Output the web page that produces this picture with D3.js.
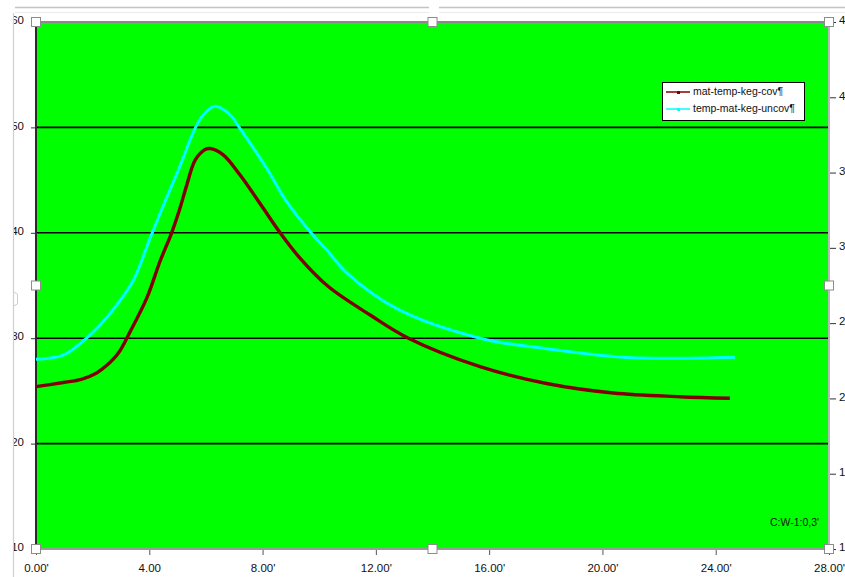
<!DOCTYPE html>
<html>
<head>
<meta charset="utf-8">
<script src="https://cdn.jsdelivr.net/npm/d3@7"></script>
<style>
  html, body { margin: 0; padding: 0; background: #ffffff; overflow: hidden; }
  svg { display: block; font-family: "Liberation Sans", Arial, sans-serif; }
</style>
</head>
<body>
<svg id="chart" width="845" height="577"></svg>
<script>
// ---- data ----
const covTime = [0, 0.96, 1.6, 2.14, 2.49, 2.91, 3.32, 3.91, 4.38, 4.79, 5.08, 5.32, 5.62, 5.97, 6.14, 6.61, 7.2, 8.03, 8.62, 9.32, 10.32, 11.8, 13.15, 15.68, 18.03, 20.38, 22.74, 24.5];
const covTemp = [25.4, 25.8, 26.1, 26.7, 27.4, 28.6, 30.6, 33.8, 37.3, 40.0, 42.3, 44.5, 46.9, 47.9, 48.0, 47.4, 45.5, 42.3, 40.0, 37.6, 34.9, 32.2, 30.0, 27.3, 25.7, 24.8, 24.45, 24.3];
const uncovTime = [0, 0.96, 1.61, 2.26, 2.85, 3.44, 4.03, 4.5, 5.08, 5.55, 5.85, 6.32, 6.85, 7.2, 8.15, 8.85, 9.68, 10.32, 10.97, 12.74, 15.68, 18.03, 20.74, 22.39, 24.68];
const uncovTemp = [28.0, 28.4, 29.6, 31.25, 33.15, 35.5, 39.5, 42.6, 46.3, 49.5, 51.0, 52.0, 51.2, 49.9, 46.1, 42.95, 40.1, 38.2, 36.2, 32.8, 30.0, 29.0, 28.2, 28.1, 28.2];
const seriesNames = ["mat-temp-keg-cov\u00b6", "temp-mat-keg-uncov\u00b6"];
const seriesColors = ["#800000", "#00ffff"];
const xTicks = [0, 4, 8, 12, 16, 20, 24, 28];
const xTickLabels = ["0.00'", "4.00", "8.00'", "12.00'", "16.00'", "20.00'", "24.00'", "28.00'"];
const yLeftTicks = [10, 20, 30, 40, 50, 60];
const yGridValues = [20, 30, 40, 50];
const yRightTicks = [10, 15, 20, 25, 30, 35, 40, 45];
const cornerNote = "C:W-1:0,3'";

// ---- layout ----
const L = 36, R = 829, T = 22, B = 549;
const svg = d3.select("#chart");

const x = d3.scaleLinear().domain([0, 28]).range([L, R]);
const yL = d3.scaleLinear().domain([10, 60]).range([B, T]);
const yR = d3.scaleLinear().domain([10, 45]).range([B, T]);

// outer frame lines
svg.append("line").attr("x1", 15).attr("x2", 845).attr("y1", 7.5).attr("y2", 7.5)
  .attr("stroke", "#c4c4c4").attr("stroke-width", 1.5);
svg.append("line").attr("x1", 15).attr("x2", 845).attr("y1", 12.5).attr("y2", 12.5)
  .attr("stroke", "#ececec").attr("stroke-width", 1);
svg.append("line").attr("x1", 13.5).attr("x2", 13.5).attr("y1", 13).attr("y2", 577)
  .attr("stroke", "#cfcfcf").attr("stroke-width", 1.2);
svg.append("rect").attr("x", 429).attr("y", 3).attr("width", 10).attr("height", 10)
  .attr("fill", "#fff").attr("stroke", "none");
svg.append("path").attr("d", "M13.5,292 L17.5,294 L17.5,304 L13.5,306")
  .attr("fill", "none").attr("stroke", "#cfcfcf").attr("stroke-width", 1);

// plot background
svg.append("rect").attr("x", L).attr("y", T).attr("width", R - L).attr("height", B - T)
  .attr("fill", "#00ff00");

// gridlines
svg.append("g").selectAll("line").data(yGridValues).join("line")
  .attr("x1", L).attr("x2", R)
  .attr("y1", d => yL(d)).attr("y2", d => yL(d))
  .attr("stroke", "#000").attr("stroke-width", 1.6);

// borders
svg.append("line").attr("x1", L).attr("x2", R).attr("y1", T).attr("y2", T)
  .attr("stroke", "#8a8a8a").attr("stroke-width", 2);
svg.append("line").attr("x1", R).attr("x2", R).attr("y1", T).attr("y2", B)
  .attr("stroke", "#b8b8b8").attr("stroke-width", 2);
svg.append("line").attr("x1", L).attr("x2", R).attr("y1", B).attr("y2", B)
  .attr("stroke", "#9a9a9a").attr("stroke-width", 2);
svg.append("line").attr("x1", L).attr("x2", L).attr("y1", T).attr("y2", B)
  .attr("stroke", "#2a2a2a").attr("stroke-width", 2);

// left axis (labels clipped by the frame at x=14)
svg.append("defs").append("clipPath").attr("id", "leftclip")
  .append("rect").attr("x", 14).attr("y", 0).attr("width", 30).attr("height", 577);
const leftAxis = d3.axisLeft(yL).tickValues(yLeftTicks).tickSize(4).tickPadding(7).tickFormat(d3.format("d"));
const gLwrap = svg.append("g").attr("clip-path", "url(#leftclip)");
const gL = gLwrap.append("g").attr("transform", `translate(${L - 1},0)`).call(leftAxis);
gL.select(".domain").remove();
gL.selectAll(".tick line").attr("stroke", "#333");
gL.selectAll(".tick text").attr("font-size", 11.5).attr("fill", "#111")
  .attr("font-family", "Liberation Sans, Arial, sans-serif").attr("dy", "0.15em");

// right axis
const rightAxis = d3.axisRight(yR).tickValues(yRightTicks).tickSize(6).tickPadding(3).tickFormat(d3.format("d"));
const gR = svg.append("g").attr("transform", `translate(${R + 1},0)`).call(rightAxis);
gR.select(".domain").remove();
gR.selectAll(".tick line").attr("stroke", "#333");
gR.selectAll(".tick text").attr("font-size", 11.5).attr("fill", "#111")
  .attr("font-family", "Liberation Sans, Arial, sans-serif").attr("dy", "0.15em");

// bottom axis
const bottomAxis = d3.axisBottom(x).tickValues(xTicks).tickSize(5).tickPadding(9)
  .tickFormat((d, i) => xTickLabels[i]);
const gB = svg.append("g").attr("transform", `translate(0,${B + 1})`).call(bottomAxis);
gB.select(".domain").remove();
gB.selectAll(".tick line").attr("stroke", "#555");
gB.selectAll(".tick text").attr("font-size", 11.5).attr("fill", "#111")
  .attr("font-family", "Liberation Sans, Arial, sans-serif");

// lines
const line = d3.line().x(d => x(d[0])).y(d => yL(d[1])).curve(d3.curveCatmullRom.alpha(0.5));
const covData = covTime.map((t, i) => [t, covTemp[i]]);
const uncovData = uncovTime.map((t, i) => [t, uncovTemp[i]]);
svg.append("path").datum(covData).attr("d", line)
  .attr("fill", "none").attr("stroke", seriesColors[0]).attr("stroke-width", 3.4);
svg.append("path").datum(uncovData).attr("d", line)
  .attr("fill", "none").attr("stroke", seriesColors[1]).attr("stroke-width", 3);

// legend
const lg = svg.append("g");
lg.append("rect").attr("x", 662.5).attr("y", 82.5).attr("width", 142).attr("height", 38)
  .attr("fill", "#fff").attr("stroke", "#000").attr("stroke-width", 1);
const rowsY = [91, 108];
seriesNames.forEach((name, i) => {
  lg.append("line").attr("x1", 666).attr("x2", 690).attr("y1", rowsY[i] + 1).attr("y2", rowsY[i] + 1)
    .attr("stroke", seriesColors[i]).attr("stroke-width", 1.5);
  lg.append("rect").attr("x", 677).attr("y", rowsY[i]).attr("width", 3).attr("height", 3)
    .attr("fill", seriesColors[i]);
  lg.append("text").attr("x", 693).attr("y", rowsY[i]).attr("dy", "0.35em")
    .attr("font-size", 10.5).attr("fill", "#111").text(name);
});

// corner note
svg.append("text").attr("x", 819).attr("y", 522).attr("dy", "0.35em").attr("text-anchor", "end")
  .attr("font-size", 10.5).attr("fill", "#111").text(cornerNote);

// selection handles
const hx = [L, (L + R) / 2, R];
const hy = [T, (T + B) / 2, B];
const handles = [];
hx.forEach((px, i) => hy.forEach((py, j) => { if (!(i === 1 && j === 1)) handles.push([px, py]); }));
svg.append("g").selectAll("rect").data(handles).join("rect")
  .attr("x", d => d[0] - 4.5).attr("y", d => d[1] - 4.5).attr("width", 9).attr("height", 9)
  .attr("fill", "#fff").attr("stroke", "#8c8c8c").attr("stroke-width", 1);
</script>
</body>
</html>
